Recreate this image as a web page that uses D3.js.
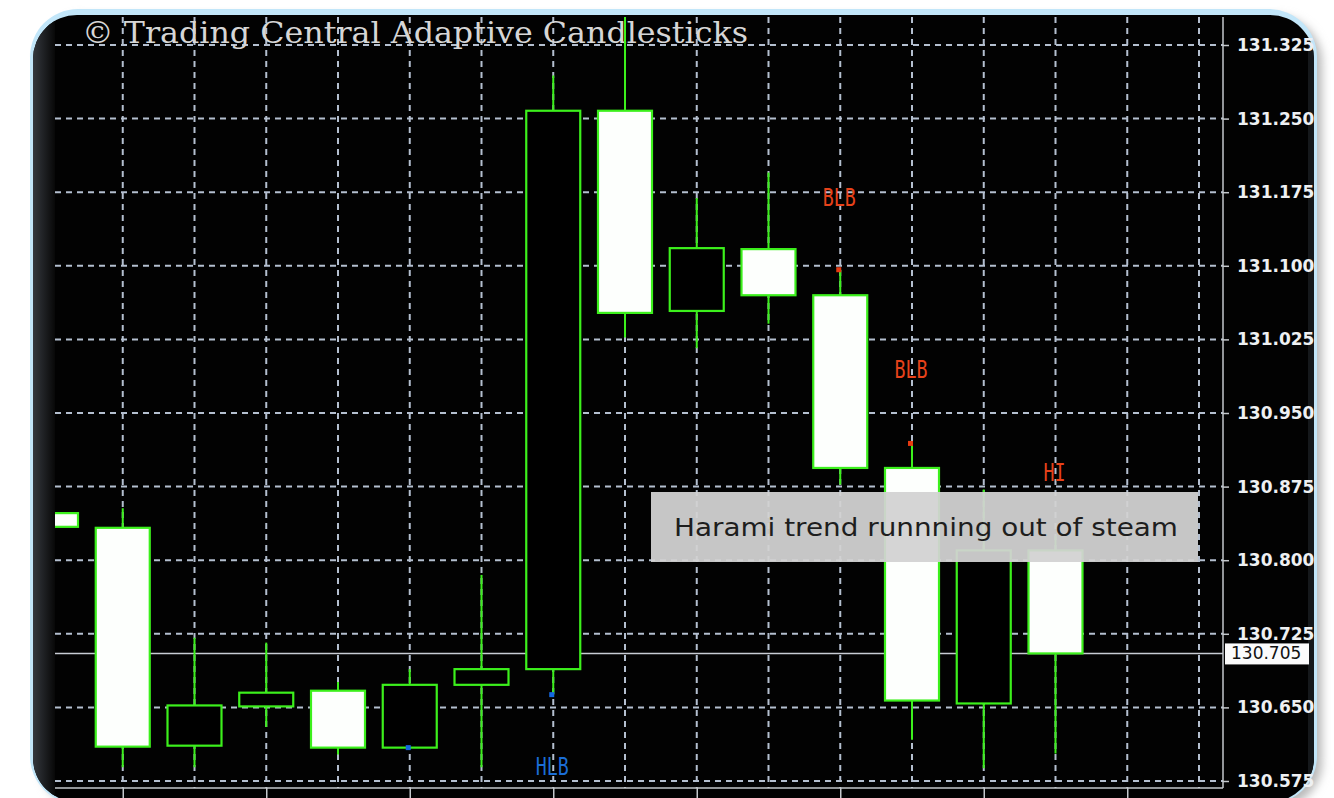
<!DOCTYPE html>
<html>
<head>
<meta charset="utf-8">
<script src="https://cdn.jsdelivr.net/npm/d3@7"></script>
<style>
  html, body { margin: 0; padding: 0; background: #fff; }
  svg { display: block; }
</style>
</head>
<body>
<div id="chart"></div>
<script>
// candle data (index = bar position)
const bars   = [0, 1, 2, 3, 4, 5, 6, 7, 8, 9, 10, 11, 12, 13, 14]
const opens  = [130.848, 130.833, 130.611, 130.651, 130.667, 130.609, 130.673, 130.689, 131.258, 131.054, 131.117, 131.070, 130.894, 130.654, 130.810]
const highs  = [130.848, 130.853, 130.721, 130.716, 130.676, 130.689, 130.785, 131.294, 131.360, 131.169, 131.195, 131.096, 130.919, 130.872, 130.825]
const lows   = [130.834, 130.589, 130.589, 130.630, 130.602, 130.609, 130.589, 130.663, 131.027, 131.016, 131.041, 130.877, 130.617, 130.588, 130.603]
const closes = [130.834, 130.610, 130.652, 130.665, 130.609, 130.673, 130.689, 131.258, 131.052, 131.118, 131.070, 130.894, 130.657, 130.810, 130.705]

// price axis ticks
const priceTicks = [130.575, 130.650, 130.725, 130.800, 130.875, 130.950, 131.025, 131.100, 131.175, 131.250, 131.325]
const currentPrice = 130.705

// pattern signals
const dotBars   = [5, 7, 11, 12]
const dotPrices = [130.609, 130.663, 131.096, 130.919]
const dotKinds  = ['bull', 'bull', 'bear', 'bear']
const sigBars   = [7, 11, 12, 14]
const sigPrices = [130.590, 131.170, 130.994, 130.889]
const sigTexts  = ['HLB', 'BLB', 'BLB', 'HI']
const sigKinds  = ['bull', 'bear', 'bear', 'bear']

const title = '\u00a9 Trading Central Adaptive Candlesticks'
const tipText = 'Harami trend runnning out of steam'

const W = 1334, H = 798
const plot = {left: 55, right: 1223, top: 17, bottom: 788}

const svg = d3.select('#chart').append('svg')
    .attr('width', W)
    .attr('height', H)

const defs = svg.append('defs')

// frame: shadow, blue rim, dark body
const shadow = defs.append('filter').attr('id', 'shadow')
    .attr('x', '-5%').attr('y', '-5%').attr('width', '110%').attr('height', '110%')
shadow.append('feGaussianBlur').attr('stdDeviation', 5)

const leftGrad = defs.append('linearGradient').attr('id', 'leftGrad')
leftGrad.append('stop').attr('offset', '0%').attr('stop-color', '#34383e')
leftGrad.append('stop').attr('offset', '100%').attr('stop-color', '#080808')

defs.append('clipPath').attr('id', 'frameClip')
    .append('rect')
    .attr('x', 33).attr('y', 15).attr('width', 1281).attr('height', 787).attr('rx', 44)

defs.append('clipPath').attr('id', 'plotClip')
    .append('rect')
    .attr('x', plot.left).attr('y', plot.top)
    .attr('width', plot.right - plot.left).attr('height', plot.bottom - plot.top)

svg.append('rect')
    .attr('x', 40).attr('y', 16).attr('width', 1282).attr('height', 792).attr('rx', 46)
    .attr('fill', '#b9b9b9')
    .attr('filter', 'url(#shadow)')

svg.append('rect')
    .attr('x', 30).attr('y', 9).attr('width', 1287).attr('height', 795).attr('rx', 48)
    .attr('fill', '#c2e6f9')

const frame = svg.append('g').attr('clip-path', 'url(#frameClip)')
frame.append('rect')
    .attr('x', 33).attr('y', 15).attr('width', 1281).attr('height', 787)
    .attr('fill', '#020202')
frame.append('rect')
    .attr('x', 33).attr('y', 15).attr('width', 22).attr('height', 787)
    .attr('fill', 'url(#leftGrad)')
frame.append('rect')
    .attr('x', 1308).attr('y', 15).attr('width', 6).attr('height', 787)
    .attr('fill', '#15181b')

// scales
const x = d3.scaleLinear().domain([0, 16]).range([51, 1199])
const y = d3.scaleLinear().domain([130.575, 131.325]).range([781, 45])
const halfBody = 27

const gridColor = '#b4bfcf'

// grid
const grid = svg.append('g').attr('clip-path', 'url(#plotClip)')
grid.selectAll('.hgrid')
    .data(priceTicks)
    .enter()
    .append('line')
    .attr('x1', plot.left).attr('x2', plot.right)
    .attr('y1', d => y(d)).attr('y2', d => y(d))
    .attr('stroke', gridColor)
    .attr('stroke-width', 2)
    .attr('stroke-dasharray', '6,5')
grid.selectAll('.vgrid')
    .data(d3.range(1, 17))
    .enter()
    .append('line')
    .attr('x1', d => x(d)).attr('x2', d => x(d))
    .attr('y1', plot.top).attr('y2', plot.bottom)
    .attr('stroke', gridColor)
    .attr('stroke-width', 2)
    .attr('stroke-dasharray', '6,5')

// title
svg.append('text')
    .attr('x', 82).attr('y', 43)
    .attr('font-family', 'DejaVu Serif')
    .attr('font-size', 30)
    .attr('fill', '#d6d6d6')
    .attr('textLength', 666)
    .attr('lengthAdjust', 'spacingAndGlyphs')
    .text(title)

// current price line
svg.append('line')
    .attr('x1', plot.left).attr('x2', plot.right)
    .attr('y1', y(currentPrice)).attr('y2', y(currentPrice))
    .attr('stroke', '#c8ccd4')
    .attr('stroke-width', 1.5)

// candles
const green = '#3cf01c'
const candles = svg.append('g').attr('clip-path', 'url(#plotClip)')
const candle = candles.selectAll('.candle')
    .data(bars)
    .enter()
    .append('g')

candle.append('line')
    .attr('x1', i => x(i)).attr('x2', i => x(i))
    .attr('y1', i => y(highs[i])).attr('y2', i => y(lows[i]))
    .attr('stroke', green)
    .attr('stroke-width', 2)

candle.append('rect')
    .attr('x', i => x(i) - halfBody)
    .attr('width', halfBody * 2)
    .attr('y', i => y(Math.max(opens[i], closes[i])))
    .attr('height', i => Math.max(1, Math.abs(y(opens[i]) - y(closes[i]))))
    .attr('fill', i => closes[i] > opens[i] ? '#000' : '#fdfffd')
    .attr('stroke', green)
    .attr('stroke-width', 2.2)

// signal dots
svg.selectAll('.sigdot')
    .data(dotBars)
    .enter()
    .append('rect')
    .attr('x', (d, k) => x(d) - 4)
    .attr('y', (d, k) => y(dotPrices[k]) - 2.5)
    .attr('width', 5).attr('height', 5)
    .attr('fill', (d, k) => dotKinds[k] == 'bull' ? '#1468e0' : '#e83a10')

// signal labels
svg.selectAll('.siglabel')
    .data(sigBars)
    .enter()
    .append('text')
    .attr('x', d => x(d) - 1)
    .attr('y', (d, k) => y(sigPrices[k]))
    .attr('text-anchor', 'middle')
    .attr('dominant-baseline', 'central')
    .attr('font-family', 'DejaVu Sans Mono')
    .attr('font-size', 25)
    .attr('textLength', (d, k) => sigTexts[k].length == 2 ? 22 : 33)
    .attr('lengthAdjust', 'spacingAndGlyphs')
    .attr('fill', (d, k) => sigKinds[k] == 'bull' ? '#1b6ed6' : '#e8421a')
    .text((d, k) => sigTexts[k])

// axes lines
const axisColor = '#c4c8cc'
svg.append('line')
    .attr('x1', plot.right).attr('x2', plot.right)
    .attr('y1', plot.top).attr('y2', plot.bottom)
    .attr('stroke', axisColor).attr('stroke-width', 1.5)
svg.append('line')
    .attr('x1', plot.left).attr('x2', plot.right)
    .attr('y1', plot.bottom).attr('y2', plot.bottom)
    .attr('stroke', axisColor).attr('stroke-width', 1.5)

// right price axis
const yAxis = d3.axisRight(y)
    .tickValues(priceTicks)
    .tickSize(6)
    .tickPadding(8)
    .tickFormat(d3.format('.3f'))
const yAxisG = svg.append('g')
    .attr('transform', 'translate(' + plot.right + ',0)')
    .call(yAxis)
yAxisG.select('.domain').remove()
yAxisG.selectAll('line').attr('stroke', axisColor).attr('stroke-width', 1.5)
yAxisG.selectAll('text')
    .attr('fill', '#eef0f2')
    .attr('font-family', 'DejaVu Sans')
    .attr('font-size', 17)
    .attr('font-weight', 600)

// bottom time axis ticks
const xAxis = d3.axisBottom(x)
    .tickValues(d3.range(1, 16, 2))
    .tickSize(10)
    .tickFormat('')
const xAxisG = svg.append('g')
    .attr('transform', 'translate(0,' + plot.bottom + ')')
    .call(xAxis)
xAxisG.select('.domain').remove()
xAxisG.selectAll('line').attr('stroke', axisColor).attr('stroke-width', 1.5)

// current price label
const cpY = y(currentPrice)
svg.append('rect')
    .attr('x', plot.right + 2).attr('y', cpY - 10)
    .attr('width', 84).attr('height', 21)
    .attr('fill', '#fbfbfb')
svg.append('text')
    .attr('x', plot.right + 8).attr('y', cpY)
    .attr('dominant-baseline', 'central')
    .attr('font-family', 'DejaVu Sans')
    .attr('font-size', 17)
    .attr('fill', '#111')
    .text(d3.format('.3f')(currentPrice))

// tooltip
const tip = svg.append('g')
tip.append('rect')
    .attr('x', 651).attr('y', 492)
    .attr('width', 547).attr('height', 70)
    .attr('fill', '#d2d2d2')
    .attr('fill-opacity', 0.94)
tip.append('text')
    .attr('x', 674).attr('y', 527)
    .attr('dominant-baseline', 'central')
    .attr('font-family', 'DejaVu Sans')
    .attr('font-size', 25)
    .attr('fill', '#1e1e1e')
    .attr('textLength', 504)
    .attr('lengthAdjust', 'spacingAndGlyphs')
    .text(tipText)
</script>
</body>
</html>
